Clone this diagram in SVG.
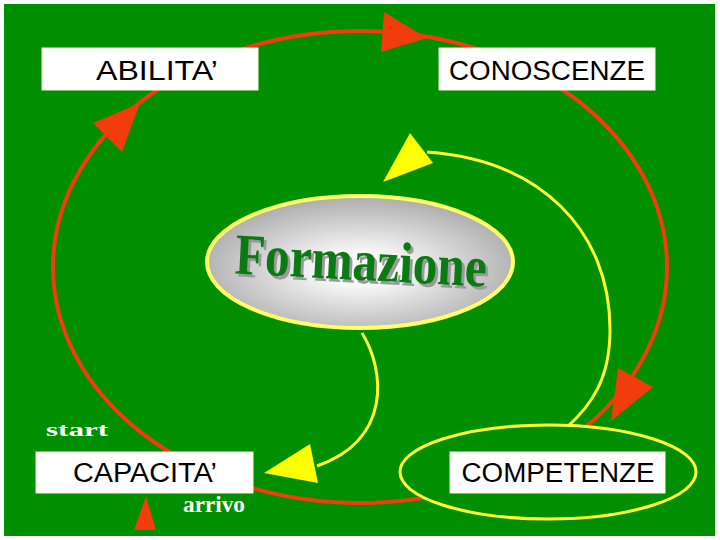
<svg xmlns="http://www.w3.org/2000/svg" width="720" height="540" viewBox="0 0 720 540">
<defs>
<style>
.box{fill:#ffffff;stroke:#f4f8d8;stroke-width:1}
.lbl{font-family:"Liberation Sans",Arial,sans-serif;font-size:27px;fill:#000000;text-anchor:middle}
.red{fill:none;stroke:#f23c0c;stroke-width:4}
.redh{fill:#f23c0c}
.yel{fill:none;stroke:#ffff33;stroke-width:3}
.yelh{fill:#ffff00}
.note{font-family:"Liberation Serif","Times New Roman",serif;font-weight:bold;fill:#ffffff}
</style>
<radialGradient id="g" cx="50%" cy="55%" r="55%">
<stop offset="0" stop-color="#ffffff"/>
<stop offset="0.25" stop-color="#f6f6f6"/>
<stop offset="1" stop-color="#acacac"/>
</radialGradient>
</defs>
<rect x="0" y="0" width="720" height="540" fill="#ffffff"/>
<rect x="4" y="4" width="711" height="532" fill="#008f00"/>
<g id="connectors">
<ellipse class="red" cx="360" cy="267" rx="307" ry="236"/>
<polygon class="redh" points="384,12 381,52 427,38"/>
<polygon class="redh" points="93,123 140,103 122,152"/>
<polygon class="redh" points="618,368 653,387 611,421"/>
<polygon class="redh" points="134,530 156,530 146,496"/>
<path class="yel" d="M427 152 C540 160 610 230 610 330 C610 378 592 405 566 428"/>
<polygon class="yelh" points="410,133 433,163 383,182"/>
<path class="yel" d="M362 333 C385 370 392 440 317 466"/>
<polygon class="yelh" points="310,444 318,483 264,473"/>
</g>
<g id="competenze">
<ellipse cx="548" cy="472" rx="148" ry="47" fill="#008f00" stroke="#ffff33" stroke-width="3"/>
<rect class="box" x="450" y="452" width="215" height="41"/>
<text class="lbl" x="558" y="482" textLength="193" lengthAdjust="spacingAndGlyphs">COMPETENZE</text>
</g>
<g id="abilita">
<rect class="box" x="42" y="48" width="216" height="42"/>
<text class="lbl" x="157" y="80" textLength="122" lengthAdjust="spacingAndGlyphs">ABILITA’</text>
</g>
<g id="conoscenze">
<rect class="box" x="439" y="48" width="216" height="42"/>
<text class="lbl" x="547" y="80" textLength="196" lengthAdjust="spacingAndGlyphs">CONOSCENZE</text>
</g>
<g id="capacita">
<rect class="box" x="36" y="452" width="217" height="41"/>
<text class="lbl" x="145" y="482" textLength="144" lengthAdjust="spacingAndGlyphs">CAPACITA’</text>
</g>
<g id="formazione">
<ellipse cx="360" cy="262" rx="153" ry="66" fill="url(#g)" stroke="#ffff66" stroke-width="4"/>
<g transform="rotate(3 360 280)" font-family="'Liberation Serif','Times New Roman',serif" font-weight="bold" font-size="58">
<text x="237" y="283" fill="#9a9a9a" textLength="252" lengthAdjust="spacingAndGlyphs">Formazione</text>
<text x="234" y="280" fill="#0a7a12" textLength="252" lengthAdjust="spacingAndGlyphs">Formazione</text>
</g>
</g>
<text class="note" x="46" y="436" font-size="18" textLength="62" lengthAdjust="spacingAndGlyphs">start</text>
<text class="note" x="183" y="512" font-size="23" textLength="62" lengthAdjust="spacingAndGlyphs">arrivo</text>
</svg>
